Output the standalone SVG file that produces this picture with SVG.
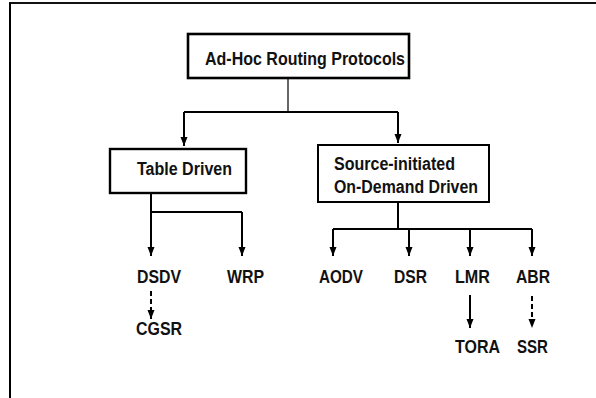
<svg xmlns="http://www.w3.org/2000/svg" width="596" height="398" viewBox="0 0 596 398">
<style>
.box{fill:#fff;stroke:#000}
.t{font-family:"Liberation Sans",Arial,sans-serif;fill:#111;font-weight:bold}
.bt{font-size:18px}
.lb{font-size:17.5px}
.c{stroke:#000;stroke-width:2;fill:none}
.thin{stroke:#000;stroke-width:1.2;fill:none}
.d{stroke-dasharray:5,3}
</style>
<defs>
<marker id="ah" markerWidth="9" markerHeight="8" refX="9" refY="3.5" orient="auto" markerUnits="userSpaceOnUse">
<path d="M0,0 L9,3.5 L0,7 z" fill="#000"/>
</marker>
</defs>
<rect width="596" height="398" fill="#fff"/>
<g id="frame">
<line x1="9" y1="3" x2="596" y2="3" stroke="#111" stroke-width="2"/>
<line x1="10" y1="3" x2="10" y2="398" stroke="#000" stroke-width="2"/>
</g>
<g id="connectors">
<line class="thin" x1="288" y1="78" x2="288" y2="112"/>
<path class="c" d="M184,112 H398"/>
<line class="c" x1="184" y1="112" x2="184" y2="146" marker-end="url(#ah)"/>
<line class="c" x1="398" y1="112" x2="398" y2="143" marker-end="url(#ah)"/>
<line class="c" x1="151" y1="193" x2="151" y2="256" marker-end="url(#ah)"/>
<path class="c" d="M151,212 H242"/>
<line class="c" x1="242" y1="212" x2="242" y2="256" marker-end="url(#ah)"/>
<line class="c" x1="398" y1="202" x2="398" y2="229"/>
<path class="c" d="M333,229 H532"/>
<line class="c" x1="333" y1="229" x2="333" y2="256" marker-end="url(#ah)"/>
<line class="c" x1="409" y1="229" x2="409" y2="256" marker-end="url(#ah)"/>
<line class="c" x1="470" y1="229" x2="470" y2="256" marker-end="url(#ah)"/>
<line class="c" x1="532" y1="229" x2="532" y2="256" marker-end="url(#ah)"/>
<line class="c d" x1="151" y1="291" x2="151" y2="319" marker-end="url(#ah)"/>
<line class="c" x1="470" y1="295" x2="470" y2="328" marker-end="url(#ah)"/>
<line class="c d" x1="532" y1="296" x2="532" y2="328" marker-end="url(#ah)"/>
</g>
<g id="root">
<rect class="box" x="188" y="34" width="221" height="44" stroke-width="2.6"/>
<text class="t" x="205" y="65" font-size="19" textLength="200" lengthAdjust="spacingAndGlyphs">Ad-Hoc Routing Protocols</text>
</g>
<g id="table-driven">
<rect class="box" x="110" y="149" width="136" height="44" stroke-width="2.4"/>
<text class="t bt" x="137" y="175" textLength="95" lengthAdjust="spacingAndGlyphs">Table Driven</text>
</g>
<g id="on-demand">
<rect class="box" x="318" y="145" width="171" height="57" stroke-width="2"/>
<text class="t bt" x="334" y="170" textLength="121" lengthAdjust="spacingAndGlyphs">Source-initiated</text>
<text class="t bt" x="334" y="193" textLength="144" lengthAdjust="spacingAndGlyphs">On-Demand Driven</text>
</g>
<g id="dsdv"><text class="t lb" x="137" y="283" textLength="44" lengthAdjust="spacingAndGlyphs">DSDV</text></g>
<g id="wrp"><text class="t lb" x="227" y="283" textLength="37" lengthAdjust="spacingAndGlyphs">WRP</text></g>
<g id="cgsr"><text class="t lb" x="136" y="335" textLength="46" lengthAdjust="spacingAndGlyphs">CGSR</text></g>
<g id="aodv"><text class="t lb" x="319" y="283" textLength="44" lengthAdjust="spacingAndGlyphs">AODV</text></g>
<g id="dsr"><text class="t lb" x="394" y="283" textLength="33" lengthAdjust="spacingAndGlyphs">DSR</text></g>
<g id="lmr"><text class="t lb" x="455" y="283" textLength="35" lengthAdjust="spacingAndGlyphs">LMR</text></g>
<g id="abr"><text class="t lb" x="516" y="283" textLength="34" lengthAdjust="spacingAndGlyphs">ABR</text></g>
<g id="tora"><text class="t lb" x="455" y="353" textLength="45" lengthAdjust="spacingAndGlyphs">TORA</text></g>
<g id="ssr"><text class="t lb" x="517" y="353" textLength="31" lengthAdjust="spacingAndGlyphs">SSR</text></g>
</svg>
